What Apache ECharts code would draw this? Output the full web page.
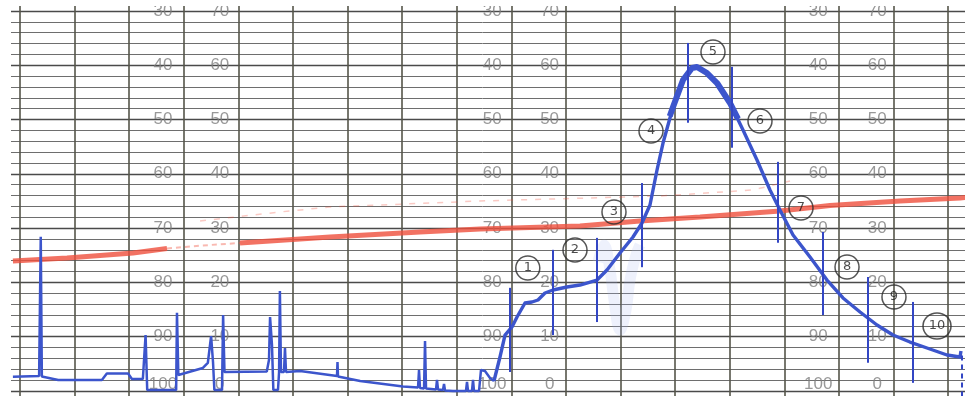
<!DOCTYPE html>
<html><head><meta charset="utf-8">
<script src="https://cdn.jsdelivr.net/npm/echarts@6/dist/echarts.min.js"></script>
<style>html,body{margin:0;padding:0;background:#fff}#c{width:965px;height:396px}</style>
</head><body><div id="c"></div>
<script>
// ---- printed chart-paper scale ----
const scaleLevels = [70, 60, 50, 40, 30, 20, 10, 0];
const leftScaleText = ['30', '40', '50', '60', '70', '80', '90', '100'];
const rightScaleText = ['70', '60', '50', '40', '30', '20', '10', '0'];
const leftLabelX = [2.62, 8.65, 14.62];
const rightLabelX = [3.66, 9.70, 15.70];

// ---- blue recorder trace (x in chart divisions, y on 0-70 scale) ----
const traceEarly = [[-0.13,2.63],[0.35,2.76],[0.38,28.4],[0.40,2.67],[0.70,2.03],[1.50,2.03],[1.59,3.22],[1.98,3.22],[2.05,2.21],[2.25,2.21],[2.30,10.3],[2.33,0.18],[2.86,0.18],[2.875,14.4],[2.90,2.95],[3.35,4.24],[3.44,5.16],[3.50,10.1],[3.535,5.34],[3.56,0.18],[3.70,0.18],[3.72,14.0],[3.745,3.5],[4.52,3.59],[4.56,5.71],[4.58,13.6],[4.615,8.47],[4.64,0.18],[4.725,0.18],[4.745,3.5],[4.76,18.4],[4.78,3.5],[4.835,3.5],[4.853,7.92],[4.872,3.5],[5.13,3.68],[5.806,2.76],[5.815,5.34],[5.824,2.67],[6.23,1.84],[7.015,0.83],[7.29,0.64],[7.308,3.87],[7.326,0.55],[7.40,0.46],[7.418,9.21],[7.436,0.46],[7.62,0.28],[7.637,2.03],[7.656,0.28],[7.747,0.18],[7.766,1.29],[7.784,0.1],[7.93,0],[8.168,0],[8.187,1.66],[8.205,0],[8.278,0],[8.297,2.03],[8.315,0],[8.407,0],[8.443,3.87],[8.516,3.68],[8.608,2.39],[8.681,1.84]];
const traceMain = [[8.681,1.84],[8.791,6.26],[8.883,10.31],[9.011,11.79],[9.103,13.63],[9.249,16.21],[9.377,16.39],[9.487,16.76],[9.615,18.05],[9.762,18.6],[10.018,19.15],[10.256,19.52],[10.568,20.44],[10.751,22.28],[10.989,25.41],[11.227,28.36],[11.392,30.94],[11.538,34.25],[11.667,40.7],[11.777,45.67],[11.96,52.3],[12.143,57.27],[12.308,59.48],[12.399,59.67],[12.582,58.56],[12.766,56.72],[13.004,53.04],[13.242,48.07],[13.498,42.54],[13.736,37.02],[13.919,33.33],[14.158,28.73],[14.469,24.68],[14.78,20.44],[15.073,17.13],[15.385,14.55],[15.696,12.15],[15.989,10.31],[16.3,9.02],[16.612,7.92],[16.978,6.63],[17.216,6.26],[17.234,7.37]];
const tracePeak = [[11.9,50.6],[11.96,52.3],[12.143,57.27],[12.308,59.48],[12.399,59.67],[12.582,58.56],[12.766,56.72],[13.004,53.04],[13.15,50.1]];
const smudge = [[10.586,23.76],[10.696,26.89],[10.806,22.28],[10.879,16.76],[10.989,11.23],[11.099,14.92],[11.172,20.44],[11.282,25.05],[11.355,26.89]];

// ---- red trace ----
const redStart = [[-0.13,23.94],[0.861,24.49],[2.07,25.41],[2.692,26.24]];
const redFaint = [[2.692,26.24],[3.35,26.8],[4.029,27.26]];
const redRest = [[4.029,27.26],[5.678,28.36],[7.326,29.28],[8.425,29.83],[10.256,30.39],[11.355,31.31],[12.454,32.04],[13.919,33.15],[14.835,34.16],[16.117,34.99],[17.216,35.54],[17.35,35.7]];
const redGhost = [[3.297,31.31],[4.762,32.97],[5.678,33.89],[8.425,34.99],[11.722,35.91],[13.425,37.02],[14.103,38.67]];

// ---- sampling markers and circled numbers ----
const markerX = [8.974, 9.762, 10.568, 11.392, 12.234, 13.04, 13.883, 14.707, 15.531, 16.355];
const markerLow = [3.5, 10.3, 12.7, 22.8, 49.4, 44.8, 27.3, 14.0, 5.2, 1.5];
const markerHigh = [19.0, 26.0, 28.2, 38.3, 64.1, 59.7, 42.2, 29.3, 21.0, 16.4];
const endMarker = [[17.253, -1, 7.0]];
const circleText = ['1','2','3','4','5','6','7','8','9','10'];
const circleX = [9.30, 10.165, 10.879, 11.557, 12.692, 13.553, 14.304, 15.147, 16.007, 16.795];
const circleY = [22.65, 25.97, 32.97, 47.88, 62.43, 49.72, 33.70, 22.84, 17.31, 11.97];

const scaleData = [];
leftLabelX.forEach((x, g) => {
  scaleLevels.forEach((lv, i) => {
    scaleData.push({ value: [x, lv], name: leftScaleText[i], label: lv === 0 ? { offset: [0, -7] } : {} });
    scaleData.push({ value: [rightLabelX[g], lv], name: rightScaleText[i], label: lv === 0 ? { offset: [0, -7] } : {} });
  });
});
const markerData = markerX.map((x, i) => [x, markerLow[i], markerHigh[i]]);
const circleData = circleText.map((t, i) => ({ value: [circleX[i], circleY[i]], name: t, symbolSize: t.length > 1 ? [28, 26] : [24, 24] }));

function vline(stroke, width, dash) {
  return function (params, api) {
    const p1 = api.coord([api.value(0), api.value(1)]);
    const p2 = api.coord([api.value(0), api.value(2)]);
    return { type: 'line', shape: { x1: p1[0], y1: p1[1], x2: p2[0], y2: p2[1] },
      style: { stroke: stroke, lineWidth: width, lineDash: dash || null } };
  };
}
const lineBase = { type: 'line', symbol: 'none', silent: true, clip: false };

const chart = echarts.init(document.getElementById('c'), null, { renderer: 'canvas' });
chart.setOption({
  animation: false,
  backgroundColor: '#ffffff',
  grid: { left: -34.6, right: -37.8, top: -43.4, bottom: -49.3, outerBoundsMode: 'none', containLabel: false },
  xAxis: { type: 'value', min: -1, max: 18, interval: 1,
    axisLine: { show: false }, axisTick: { show: false }, axisLabel: { show: false },
    splitLine: { show: true, lineStyle: { color: '#55554a', width: 1.6 } } },
  yAxis: { type: 'value', min: -10, max: 80, interval: 10,
    axisLine: { show: false }, axisTick: { show: false }, axisLabel: { show: false },
    splitLine: { show: true, lineStyle: { color: '#4a4a4a', width: 1.4 } },
    minorTick: { show: false, splitNumber: 5 },
    minorSplitLine: { show: true, lineStyle: { color: '#6e6e6e', width: 1 } } },
  series: [
    { type: 'scatter', data: scaleData, symbolSize: 0, silent: true, z: 2,
      label: { show: true, position: 'inside', formatter: p => p.name, color: '#7e7e7e',
        fontSize: 17, fontFamily: 'Liberation Sans' } },
    Object.assign({}, lineBase, { data: redGhost, z: 3, lineStyle: { color: '#ef4f3c', width: 1.5, opacity: 0.3, type: [6, 8] } }),
    Object.assign({}, lineBase, { data: redStart, z: 3, lineStyle: { color: '#ef4f3c', width: 5, opacity: 0.8 } }),
    Object.assign({}, lineBase, { data: redFaint, z: 3, lineStyle: { color: '#ef4f3c', width: 2, opacity: 0.4, type: [5, 4] } }),
    Object.assign({}, lineBase, { data: redRest, z: 3, lineStyle: { color: '#ef4f3c', width: 5, opacity: 0.8 } }),
    Object.assign({}, lineBase, { data: smudge, z: 4, smooth: 0.4, lineStyle: { color: '#a9b8f0', width: 11, opacity: 0.2 } }),
    Object.assign({}, lineBase, { data: traceEarly, z: 5, lineStyle: { color: '#3c55cc', width: 2.5 } }),
    Object.assign({}, lineBase, { data: traceMain, z: 5, lineStyle: { color: '#3c55cc', width: 3.4, join: 'round' } }),
    Object.assign({}, lineBase, { data: tracePeak, z: 5, lineStyle: { color: '#3c55cc', width: 6, join: 'round' } }),
    { type: 'custom', data: markerData, z: 6, silent: true, encode: { x: 0, y: [1, 2] }, renderItem: vline('#3346c4', 2) },
    { type: 'custom', data: endMarker, z: 6, silent: true, encode: { x: 0, y: [1, 2] }, renderItem: vline('#3346c4', 2, [5, 4]) },
    { type: 'scatter', data: circleData, z: 7, silent: true, symbol: 'circle',
      itemStyle: { color: 'rgba(255,255,255,0)', borderColor: '#2a2a2a', borderWidth: 1.5 },
      label: { show: true, position: 'inside', formatter: p => p.name, color: '#1e1e1e', fontSize: 13, fontFamily: 'DejaVu Sans' } }
  ],
  graphic: [
    { type: 'rect', left: 0, top: 0, z: 100, shape: { width: 11, height: 396 }, style: { fill: '#ffffff' } },
    { type: 'rect', left: 0, top: 0, z: 100, shape: { width: 965, height: 6 }, style: { fill: '#ffffff' } }
  ]
});
</script></body></html>
